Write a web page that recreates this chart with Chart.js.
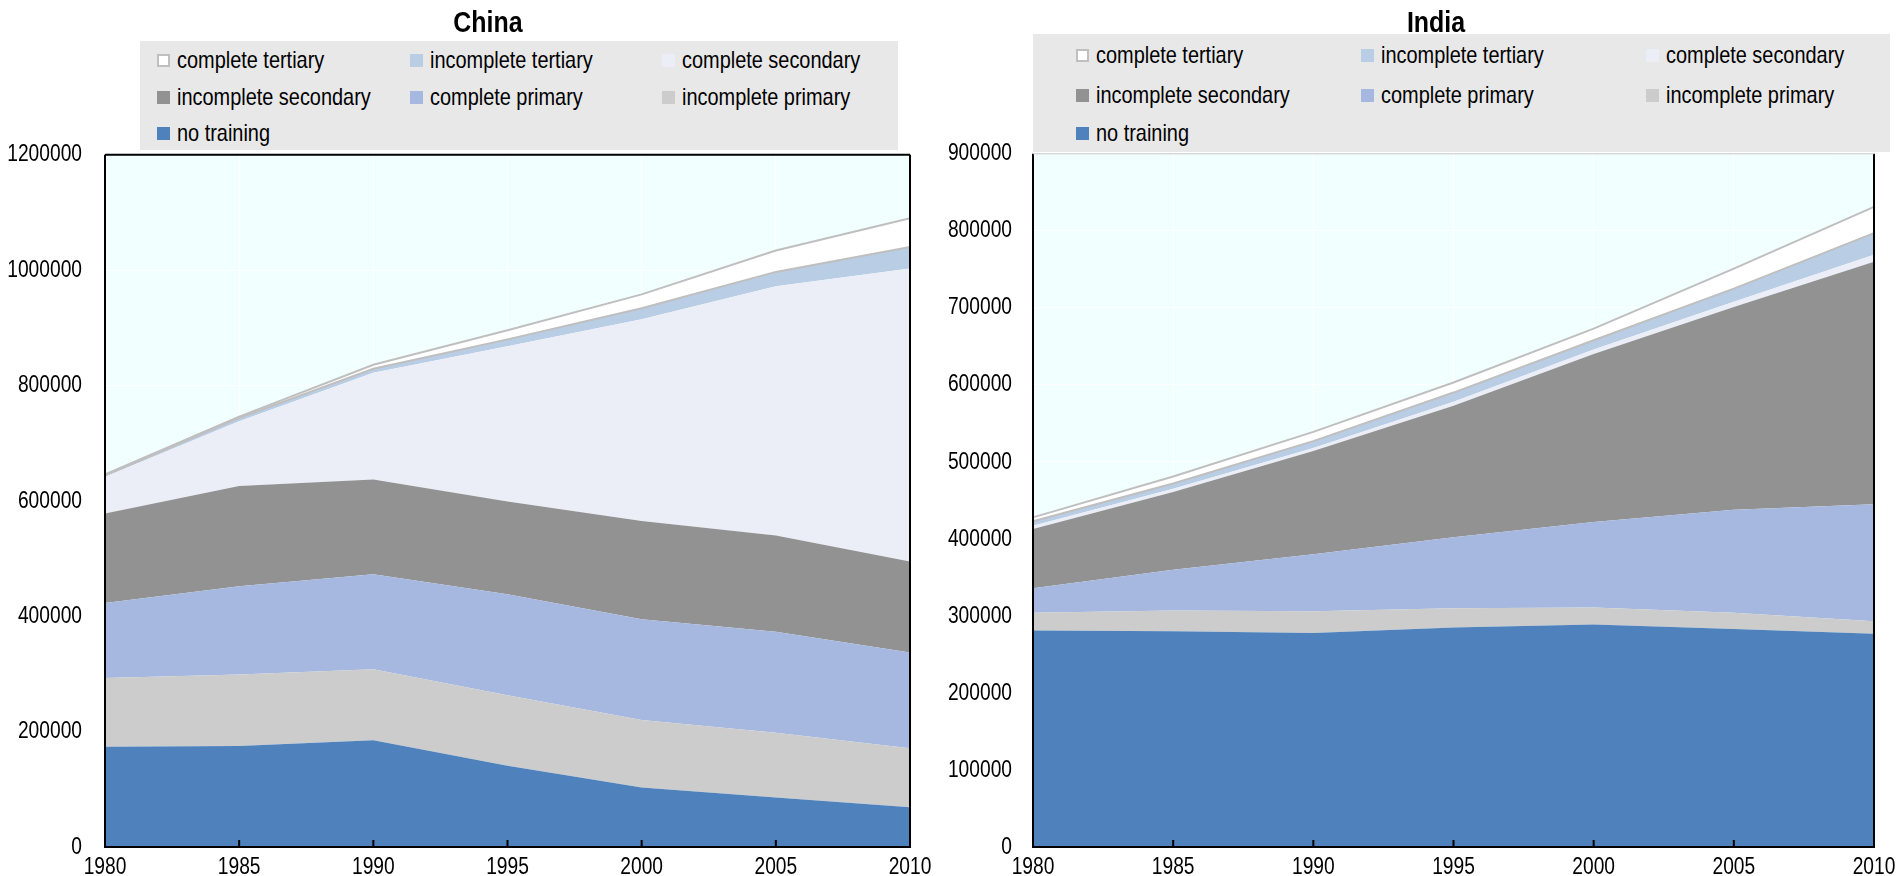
<!DOCTYPE html>
<html lang="en">
<head>
    <meta charset="UTF-8">
    <title>China / India - workforce by education level</title>
    <script src="https://cdn.jsdelivr.net/npm/chart.js"></script>
    <style>
        body {
            margin: 0;
            background: #fff;
            font-family: 'Liberation Sans', Arial, sans-serif;
        }
        .page {
            position: relative;
            width: 1898px;
            height: 876px;
            overflow: hidden;
        }
        .chart-box {
            position: absolute;
            top: 0;
            height: 876px;
        }
        .legend {
            position: absolute;
            background: #e8e8e8;
            font-size: 24px;
            color: #000;
        }
        .legend .item {
            position: absolute;
            white-space: nowrap;
            line-height: 28px;
            transform: translateY(-50%);
        }
        .legend .swatch {
            display: inline-block;
            width: 13px;
            height: 13px;
            margin-right: 7px;
            vertical-align: 1px;
            box-sizing: border-box;
        }
        .legend .txt {
            display: inline-block;
            transform: scaleX(0.83);
            transform-origin: left center;
        }
    </style>
</head>
<body>
<div class="page">
    <div class="chart-box" style="left:0; width:976px"><canvas id="chinaChart"></canvas></div>
    <div class="chart-box" style="left:920px; width:1032px"><canvas id="indiaChart"></canvas></div>
    <div class="legend" id="chinaLegend" style="left:140px; top:41px; width:758px; height:109px"></div>
    <div class="legend" id="indiaLegend" style="left:1033px; top:34px; width:857px; height:118px"></div>
</div>

<script>
// years on the x axis
const years = ['1980', '1985', '1990', '1995', '2000', '2005', '2010'];

// series names, bottom of the stack first
const seriesNames = ['no training', 'incomplete primary', 'complete primary', 'incomplete secondary',
    'complete secondary', 'incomplete tertiary', 'complete tertiary'];

// China
const chinaNoTraining = [174000, 175000, 185000, 141000, 103000, 86000, 69000];
const chinaIncPrimary = [119000, 124000, 123000, 122000, 117000, 112000, 102000];
const chinaCompPrimary = [130000, 153000, 165000, 175000, 175000, 175000, 166000];
const chinaIncSecondary = [155000, 174000, 164000, 161000, 170000, 167000, 158000];
const chinaCompSecondary = [64000, 112000, 185000, 269000, 350000, 432000, 508000];
const chinaIncTertiary = [2000, 6000, 7000, 12000, 19000, 25000, 37000];
const chinaCompTertiary = [2000, 2000, 7000, 16000, 24000, 37000, 50000];

// India
const indiaNoTraining = [281000, 280000, 278000, 285000, 289000, 283000, 277000];
const indiaIncPrimary = [23000, 27000, 28000, 25000, 22000, 21000, 16000];
const indiaCompPrimary = [32000, 53000, 74000, 92000, 111000, 134000, 152000];
const indiaIncSecondary = [77000, 101000, 134000, 171000, 218000, 263000, 315000];
const indiaCompSecondary = [4000, 4000, 4000, 5000, 6000, 7000, 9000];
const indiaIncTertiary = [6000, 7000, 9000, 12000, 12000, 17000, 28000];
const indiaCompTertiary = [5000, 9000, 12000, 13000, 15000, 26000, 34000];

// y axis tick labels
const chinaTicks = [0, 200000, 400000, 600000, 800000, 1000000, 1200000];
const indiaTicks = [0, 100000, 200000, 300000, 400000, 500000, 600000, 700000, 800000, 900000];

const fillColors = ['#4f81bd', '#cccccc', '#a7b8e0', '#929292', '#ebeef7', '#b9cde5', '#ffffff'];
// legend order as in the picture (3 per row)
const legendOrder = [6, 5, 4, 3, 2, 1, 0];

Chart.defaults.font.family = "'Liberation Sans', Arial, sans-serif";
Chart.defaults.color = '#000';

// no narrow font installed: squeeze canvas text horizontally around its anchor
function narrowText(ctx) {
    const orig = ctx.fillText.bind(ctx);
    ctx.fillText = function (t, x, y, maxW) {
        const k = /bold/.test(this.font) ? 0.86 : 0.8;
        this.save();
        this.translate(x, y);
        this.scale(k, 1);
        if (maxW !== undefined) orig(t, 0, 0, maxW / k); else orig(t, 0, 0);
        this.restore();
    };
    return ctx;
}

// background, frame and inward tick marks
const framePlugin = {
    id: 'frame',
    beforeDraw(chart) {
        const a = chart.chartArea, ctx = chart.ctx;
        ctx.save();
        ctx.fillStyle = '#f2ffff';
        ctx.fillRect(a.left, a.top, a.right - a.left, a.bottom - a.top);
        ctx.restore();
    },
    afterDatasetsDraw(chart, args, opts) {
        const a = chart.chartArea, ctx = chart.ctx;
        const x = chart.scales.x;
        ctx.save();
        ctx.strokeStyle = '#000';
        ctx.lineWidth = 2;
        ctx.beginPath();
        ctx.moveTo(a.left, a.top);
        ctx.lineTo(a.left, a.bottom);
        ctx.lineTo(a.right, a.bottom);
        ctx.lineTo(a.right, a.top);
        ctx.stroke();
        ctx.strokeStyle = opts.topColor || '#000';
        ctx.lineWidth = opts.topWidth || 2;
        ctx.beginPath();
        ctx.moveTo(a.left, a.top);
        ctx.lineTo(a.right, a.top);
        ctx.stroke();
        // short ticks pointing up into the plot
        ctx.strokeStyle = '#000';
        ctx.lineWidth = 2;
        for (let i = 1; i < years.length - 1; i++) {
            const px = x.getPixelForTick(i);
            ctx.beginPath();
            ctx.moveTo(px, a.bottom);
            ctx.lineTo(px, a.bottom - 7);
            ctx.stroke();
        }
        ctx.restore();
    }
};

function buildDatasets(series) {
    return series.map((vals, i) => ({
        label: seriesNames[i],
        data: vals,
        backgroundColor: fillColors[i],
        borderColor: i >= 5 ? '#bfbfbf' : fillColors[i],
        borderWidth: i >= 5 ? 2 : 0,
        pointRadius: 0,
        tension: 0,
        fill: i === 0 ? 'origin' : '-1'
    }));
}

function makeChart(id, title, series, ticks, yMax, lay) {
    const ctx = narrowText(document.getElementById(id).getContext('2d'));
    new Chart(ctx, {
        type: 'line',
        data: { labels: years, datasets: buildDatasets(series) },
        options: {
            responsive: true,
            maintainAspectRatio: false,
            animation: false,
            layout: { padding: 0 },
            plugins: {
                legend: { display: false },
                tooltip: { enabled: false },
                title: {
                    display: true,
                    text: title,
                    font: { size: 29, weight: 'bold' },
                    padding: { top: 7, bottom: lay.titleBottom }
                },
                frame: { topColor: lay.topColor, topWidth: lay.topWidth }
            },
            scales: {
                x: {
                    type: 'category',
                    offset: false,
                    grid: { color: '#ffffff', lineWidth: 1, drawTicks: false },
                    border: { display: false },
                    ticks: { font: { size: 24 }, padding: 6, maxRotation: 0, minRotation: 0, autoSkip: false },
                    afterFit: s => { s.height = 29; }
                },
                y: {
                    stacked: true,
                    min: 0,
                    max: yMax,
                    grid: { color: '#ffffff', lineWidth: 1, drawTicks: false },
                    border: { display: false },
                    afterBuildTicks: s => { s.ticks = ticks.map(v => ({ value: v })); },
                    ticks: { font: { size: 24 }, padding: lay.tickPad, callback: v => String(v) },
                    afterFit: s => {
                        s.width = lay.yWidth;
                        s.paddingTop = 0;
                        s.paddingBottom = 0;
                    }
                },
                // empty right box, keeps the title centred like the original
                y2: {
                    type: 'linear',
                    position: 'right',
                    grid: { display: false },
                    border: { display: false },
                    ticks: { display: false },
                    afterFit: s => {
                        s.width = lay.rightWidth;
                        s.paddingTop = 0;
                        s.paddingBottom = 0;
                    }
                }
            }
        },
        plugins: [framePlugin]
    });
}

function makeLegend(id, cols, rows) {
    const box = document.getElementById(id);
    legendOrder.forEach((si, k) => {
        const item = document.createElement('div');
        item.className = 'item';
        item.style.left = cols[k % 3] + 'px';
        item.style.top = rows[Math.floor(k / 3)] + 'px';
        const sw = document.createElement('span');
        sw.className = 'swatch';
        sw.style.background = fillColors[si];
        if (si === 6) sw.style.border = '2px solid #bfbfbf';
        const txt = document.createElement('span');
        txt.className = 'txt';
        txt.textContent = seriesNames[si];
        item.appendChild(sw);
        item.appendChild(txt);
        box.appendChild(item);
    });
}

makeChart('chinaChart', 'China',
    [chinaNoTraining, chinaIncPrimary, chinaCompPrimary, chinaIncSecondary, chinaCompSecondary, chinaIncTertiary, chinaCompTertiary],
    chinaTicks, 1200000,
    { yWidth: 105, rightWidth: 66, tickPad: 23, titleBottom: 113, topColor: '#000', topWidth: 2 });

makeChart('indiaChart', 'India',
    [indiaNoTraining, indiaIncPrimary, indiaCompPrimary, indiaIncSecondary, indiaCompSecondary, indiaIncTertiary, indiaCompTertiary],
    indiaTicks, 900000,
    { yWidth: 113, rightWidth: 78, tickPad: 21, titleBottom: 112, topColor: '#c8c8c8', topWidth: 1 });

makeLegend('chinaLegend', [17, 270, 522], [19, 56, 92]);
makeLegend('indiaLegend', [43, 328, 613], [21, 61, 99]);
</script>
</body>
</html>
